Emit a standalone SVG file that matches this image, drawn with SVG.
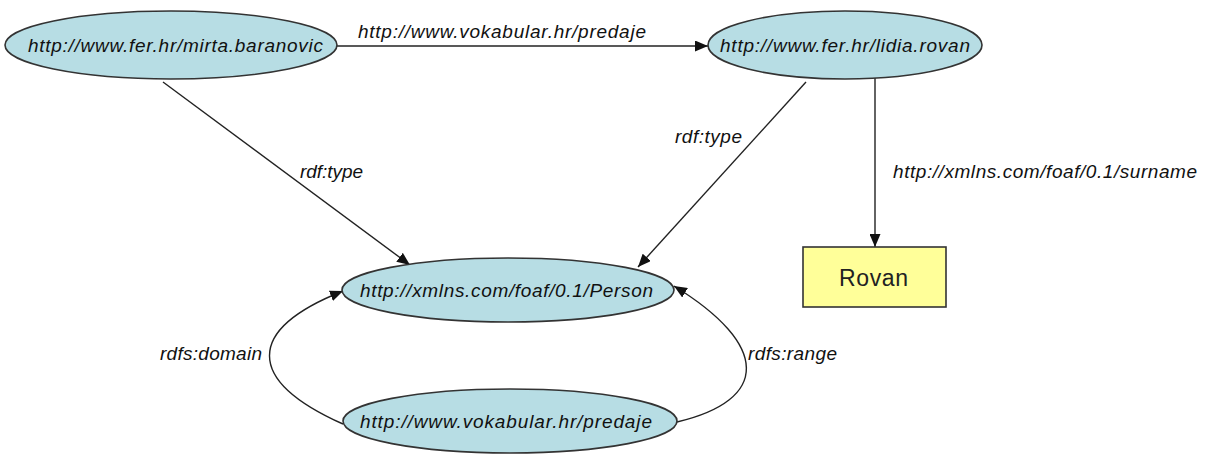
<svg xmlns="http://www.w3.org/2000/svg" width="1205" height="457" viewBox="0 0 1205 457">
<style>
.node ellipse{fill:#b7dde4;stroke:#333;stroke-width:1.6}
.lbl{font-family:"Liberation Sans",Arial,sans-serif;font-style:italic;font-size:19px;fill:#111}
.edge{fill:none;stroke:#222;stroke-width:1.4}
</style>
<defs>
<marker id="arr" viewBox="0 0 13 11" refX="13" refY="5.5" markerWidth="13" markerHeight="11" markerUnits="userSpaceOnUse" orient="auto">
<path d="M0,0 L13,5.5 L0,11 Z" fill="#111"/>
</marker>
</defs>
<rect width="1205" height="457" fill="#fff"/>
<g id="connectors">
<line class="edge" x1="337" y1="46" x2="708" y2="46" marker-end="url(#arr)"/>
<text class="lbl" x="358" y="38" textLength="288" lengthAdjust="spacing">http://www.vokabular.hr/predaje</text>
<line class="edge" x1="163" y1="82" x2="410" y2="265" marker-end="url(#arr)"/>
<text class="lbl" x="300" y="178" textLength="63" lengthAdjust="spacing">rdf:type</text>
<line class="edge" x1="806" y1="82" x2="638" y2="267" marker-end="url(#arr)"/>
<text class="lbl" x="675" y="143" textLength="67" lengthAdjust="spacing">rdf:type</text>
<line class="edge" x1="875" y1="78" x2="875" y2="247" marker-end="url(#arr)"/>
<text class="lbl" x="893" y="178" textLength="304" lengthAdjust="spacing">http://xmlns.com/foaf/0.1/surname</text>
<path class="edge" d="M343,424 C245,380 245,330 343,291" marker-end="url(#arr)"/>
<text class="lbl" x="160" y="360" textLength="102" lengthAdjust="spacing">rdfs:domain</text>
<path class="edge" d="M677,422 C770,400 770,345 674,286" marker-end="url(#arr)"/>
<text class="lbl" x="748" y="360" textLength="89" lengthAdjust="spacing">rdfs:range</text>
</g>
<g id="mirta" class="node">
<ellipse cx="171" cy="45" rx="166" ry="34"/>
<text class="lbl" x="28" y="52" textLength="295" lengthAdjust="spacing">http://www.fer.hr/mirta.baranovic</text>
</g>
<g id="lidia" class="node">
<ellipse cx="845" cy="45" rx="137" ry="34"/>
<text class="lbl" x="720" y="52" textLength="250" lengthAdjust="spacing">http://www.fer.hr/lidia.rovan</text>
</g>
<g id="person" class="node">
<ellipse cx="508" cy="290" rx="166" ry="32"/>
<text class="lbl" x="360" y="297" textLength="293" lengthAdjust="spacing">http://xmlns.com/foaf/0.1/Person</text>
</g>
<g id="predaje" class="node">
<ellipse cx="510" cy="421" rx="167" ry="32"/>
<text class="lbl" x="360" y="428" textLength="292" lengthAdjust="spacing">http://www.vokabular.hr/predaje</text>
</g>
<g id="rovan">
<rect x="803" y="247" width="143" height="60" fill="#ffff99" stroke="#333" stroke-width="1.6"/>
<text x="839" y="286" font-family="Liberation Sans, Arial, sans-serif" font-size="23" fill="#222" textLength="69" lengthAdjust="spacing">Rovan</text>
</g>
</svg>
